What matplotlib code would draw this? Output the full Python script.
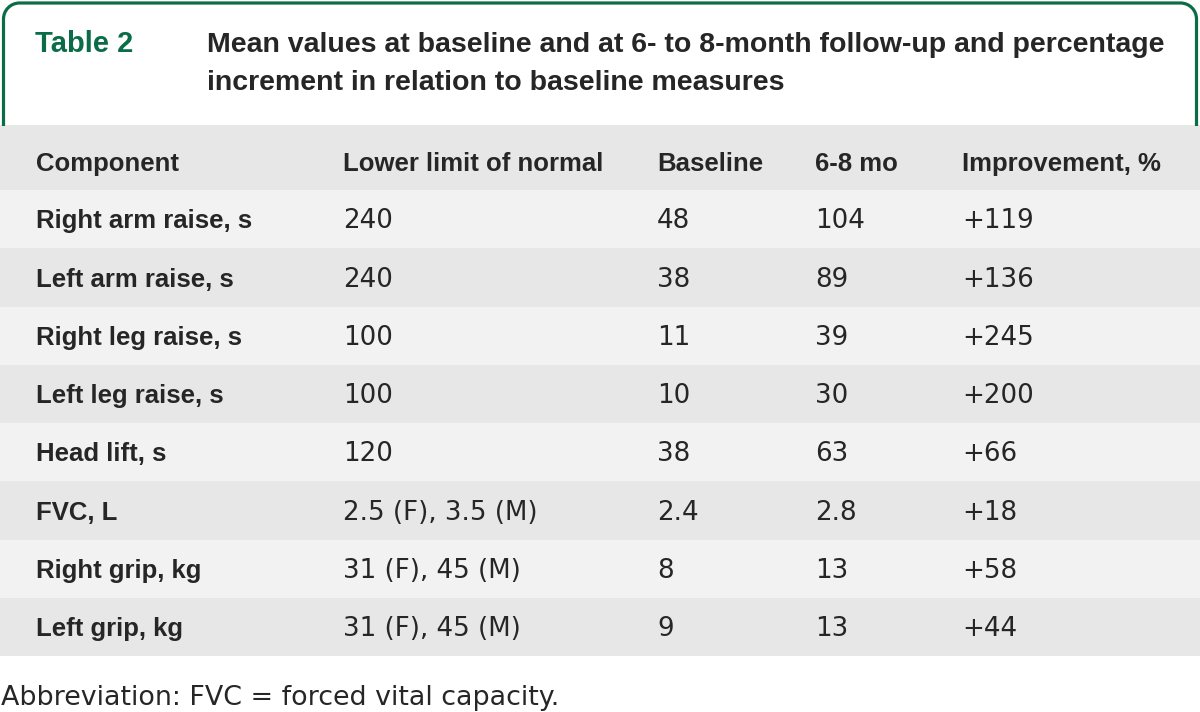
import matplotlib
matplotlib.use("Agg")
import matplotlib.pyplot as plt
from matplotlib.path import Path
from matplotlib.patches import PathPatch, Rectangle

# ---------------- data ----------------
table_label = "Table 2"
title_lines = ["Mean values at baseline and at 6- to 8-month follow-up and percentage",
               "increment in relation to baseline measures"]
headers = ["Component", "Lower limit of normal", "Baseline", "6-8 mo", "Improvement, %"]
components = ["Right arm raise, s", "Left arm raise, s", "Right leg raise, s",
              "Left leg raise, s", "Head lift, s", "FVC, L", "Right grip, kg", "Left grip, kg"]
lower_limit = ["240", "240", "100", "100", "120", "2.5 (F), 3.5 (M)", "31 (F), 45 (M)", "31 (F), 45 (M)"]
baseline = ["48", "38", "11", "10", "38", "2.4", "8", "9"]
followup = ["104", "89", "39", "30", "63", "2.8", "13", "13"]
improvement = ["+119", "+136", "+245", "+200", "+66", "+18", "+58", "+44"]
footnote = "Abbreviation: FVC = forced vital capacity."

# ---------------- style ----------------
W, H = 1200, 712
GREEN = "#0b6c48"
TEXT = "#262626"
GRAY = "#e7e7e7"
LIGHT = "#f1f2f1"
FONT = "Liberation Sans"
FONT_REG = "DejaVu Sans"

fig = plt.figure(figsize=(W / 100, H / 100), dpi=100)
ax = fig.add_axes([0, 0, 1, 1])
ax.set_xlim(0, W)
ax.set_ylim(H, 0)
ax.axis("off")
fig.patch.set_facecolor("white")

renderer = fig.canvas.get_renderer()


def fit(t, target_w):
    """scale a text's font size so its rendered width matches target_w pixels"""
    w = t.get_window_extent(renderer).width
    t.set_fontsize(t.get_fontsize() * target_w / w)
    return t.get_fontsize()


# ---- header frame with rounded top corners ----
x0, x1, ytop, ybot, r = 3.5, 1196.5, 3.0, 126, 16
k = 0.5523 * r
verts = [(x0, ybot), (x0, ytop + r),
         (x0, ytop + r - k), (x0 + r - k, ytop), (x0 + r, ytop),
         (x1 - r, ytop),
         (x1 - r + k, ytop), (x1, ytop + r - k), (x1, ytop + r),
         (x1, ybot)]
codes = [Path.MOVETO, Path.LINETO,
         Path.CURVE4, Path.CURVE4, Path.CURVE4,
         Path.LINETO,
         Path.CURVE4, Path.CURVE4, Path.CURVE4,
         Path.LINETO]
ax.add_patch(PathPatch(Path(verts, codes), fill=False, edgecolor=GREEN, lw=2.3, zorder=1))

# ---- title ----
t = ax.text(35, 52, table_label, color=GREEN, fontweight="bold", family=FONT,
            fontsize=20, va="baseline", ha="left")
fit(t, 98)
t1 = ax.text(207, 52, title_lines[0], color=TEXT, fontweight="bold", family=FONT,
             fontsize=20, va="baseline", ha="left")
tsize = fit(t1, 956)
ax.text(207, 90, title_lines[1], color=TEXT, fontweight="bold", family=FONT,
        fontsize=tsize, va="baseline", ha="left")

# ---- body rows ----
col_x = [36, 343, 657, 815, 962]
header_top, header_bot = 125, 190
row_h = (656 - header_bot) / len(components)

ax.add_patch(Rectangle((0, header_top), W, header_bot - header_top, color=GRAY, lw=0, zorder=0))
for i in range(len(components)):
    y = header_bot + i * row_h
    ax.add_patch(Rectangle((0, y), W, row_h, color=LIGHT if i % 2 == 0 else GRAY, lw=0, zorder=0))

# font sizes fitted from reference widths
probe_b = ax.text(0, -100, components[0], fontweight="bold", family=FONT, fontsize=18)
bsize = fit(probe_b, 216)
probe_b.remove()
probe_r = ax.text(0, -100, lower_limit[0], family=FONT_REG, fontsize=18)
rsize = fit(probe_r, 50)
probe_r.remove()

for j, h in enumerate(headers):
    ax.text(col_x[j], 171, h, color=TEXT, family=FONT, fontsize=bsize,
            fontweight="bold", va="baseline", ha="left")

columns = [components, lower_limit, baseline, followup, improvement]
for i in range(len(components)):
    yb = header_bot + (i + 0.5) * row_h + 9.2
    for j, col in enumerate(columns):
        ax.text(col_x[j], yb, col[i], color=TEXT,
                family=FONT if j == 0 else FONT_REG,
                fontsize=bsize if j == 0 else rsize,
                fontweight="bold" if j == 0 else "normal",
                va="baseline", ha="left")

# ---- footnote ----
fn = ax.text(1, 705, footnote, color=TEXT, family=FONT_REG, fontsize=rsize, va="baseline", ha="left")
fit(fn, 560)

fig.savefig("out.png", dpi=100, facecolor="white")
